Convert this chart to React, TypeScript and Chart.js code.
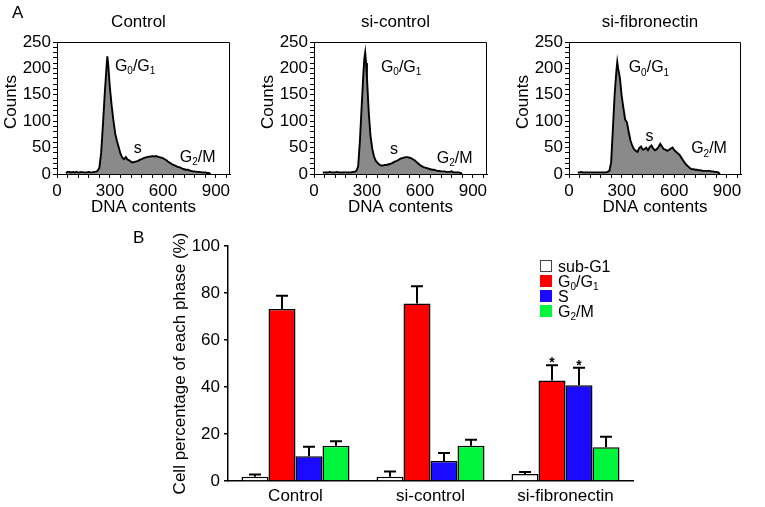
import React, { useEffect, useRef } from 'react';
import { Chart, registerables } from 'chart.js';

Chart.register(...registerables);

const FONT = '"Liberation Sans", Arial, Helvetica, sans-serif';
const AXIS_SIZE = 17;

// ---------------- Panel A : DNA content histograms ----------------
const dnaTickLabels = [0, 300, 600, 900];
const dnaMinorStep = 60;
const dnaAxisMax = 980;
const countTickLabels = [0, 50, 100, 150, 200, 250];
const countMinorStep = 10;
const histTitles = ['Control', 'si-control', 'si-fibronectin'];
const peakLabels = ['G_0/G_1', 's', 'G_2/M'];

const controlDna = [
  50, 60, 70, 80, 90, 100, 110, 120, 130, 140,
  150, 160, 170, 180, 190, 200, 210, 220, 230, 240,
  250, 260, 270, 280, 285, 290, 300, 310, 320, 330,
  340, 350, 360, 370, 380, 390, 400, 410, 420, 430,
  440, 450, 460, 470, 480, 490, 500, 510, 520, 530,
  540, 550, 560, 570, 580, 590, 600, 610, 620, 630,
  640, 650, 660, 670, 680, 690, 700, 710, 720, 730,
  740, 750, 760, 770, 780, 790, 800, 810, 820, 830,
  840, 850, 860, 870,
];
const controlCounts = [
  2, 4, 4, 3, 4, 3, 4, 3, 3, 4,
  3, 3, 3, 4, 3, 3, 4, 4, 6, 12,
  40, 92, 150, 200, 223, 208, 162, 128, 100, 76,
  62, 50, 38, 31, 28, 32, 27, 26, 23, 22,
  23, 24, 25, 27, 28, 30, 31, 32, 33, 33,
  34, 33, 34, 33, 32, 31, 30, 28, 26, 23,
  21, 19, 17, 16, 14, 13, 12, 10, 9, 8,
  8, 7, 6, 5, 5, 4, 4, 4, 3, 3,
  3, 2, 2, 0,
];

const siControlDna = [
  50, 60, 70, 80, 90, 100, 110, 120, 130, 140,
  150, 160, 170, 180, 190, 200, 210, 220, 230, 240,
  250, 260, 270, 280, 285, 290, 295, 300, 310, 320,
  330, 340, 350, 360, 370, 380, 390, 400, 410, 420,
  430, 440, 450, 460, 470, 480, 490, 500, 510, 520,
  530, 540, 550, 560, 570, 580, 590, 600, 610, 620,
  630, 640, 650, 660, 670, 680, 690, 700, 710, 720,
  730, 740, 750, 760, 770, 780, 790, 800, 810, 820,
  830, 840,
];
const siControlCounts = [
  3, 3, 3, 3, 4, 3, 3, 3, 4, 3,
  3, 3, 3, 3, 3, 3, 3, 4, 4, 6,
  14, 62, 128, 192, 218, 230, 210, 182, 118, 72,
  48, 33, 25, 21, 18, 16, 16, 17, 17, 18,
  19, 20, 22, 24, 25, 27, 29, 30, 31, 32,
  32, 31, 30, 28, 26, 23, 20, 17, 15, 13,
  12, 11, 10, 9, 8, 8, 7, 6, 6, 5,
  5, 5, 4, 4, 4, 5, 3, 3, 3, 3,
  2, 0,
];

const siFibronectinDna = [
  50, 60, 70, 80, 90, 100, 110, 120, 130, 140,
  150, 160, 170, 180, 190, 200, 210, 220, 230, 240,
  250, 260, 270, 275, 280, 290, 300, 310, 320, 330,
  340, 350, 360, 370, 380, 390, 400, 410, 420, 430,
  440, 450, 460, 470, 480, 490, 500, 510, 520, 530,
  540, 550, 560, 570, 580, 590, 600, 610, 620, 630,
  640, 650, 660, 670, 680, 690, 700, 710, 720, 730,
  740, 750, 760, 770, 780, 790, 800, 810, 820, 830,
  840, 850, 860,
];
const siFibronectinCounts = [
  3, 3, 4, 3, 3, 3, 3, 3, 3, 3,
  3, 3, 3, 3, 3, 3, 3, 4, 6, 22,
  85, 150, 195, 212, 200, 182, 148, 125, 103, 98,
  80, 64, 54, 47, 44, 42, 49, 52, 46, 47,
  50, 45, 51, 54, 48, 45, 47, 51, 57, 52,
  47, 46, 44, 46, 48, 50, 45, 42, 39, 36,
  31, 26, 21, 17, 14, 11, 9, 9, 8, 8,
  7, 7, 6, 6, 6, 6, 6, 5, 5, 4,
  4, 3, 0,
];

// label anchors in data units [DNA, count]
const controlLabelAt = [[328, 206], [458, 51], [696, 34]];
const siControlLabelAt = [[379, 204], [453, 49], [696, 32]];
const siFibronectinLabelAt = [[340, 203], [458, 72], [696, 50]];

// ---------------- Panel B : phase percentages ----------------
const groups = ['Control', 'si-control', 'si-fibronectin'];
const phaseLabels = ['sub-G1', 'G_0/G_1', 'S', 'G_2/M'];
const subG1 = [1.8, 1.8, 3.0];
const g0g1 = [73.2, 75.5, 42.8];
const sPhase = [10.5, 8.5, 40.7];
const g2m = [15.0, 15.0, 14.4];
const subG1Err = [1.0, 2.2, 0.8];
const g0g1Err = [5.6, 7.4, 6.5];
const sPhaseErr = [4.1, 3.4, 7.5];
const g2mErr = [1.9, 2.6, 4.4];
const subG1Sig = ['', '', ''];
const g0g1Sig = ['', '', '*'];
const sPhaseSig = ['', '', '*'];
const g2mSig = ['', '', ''];
const percentTicks = [0, 20, 40, 60, 80, 100];

const phaseColors = ['#ffffff', '#ff0000', '#1a0aff', '#00f53c'];

// ---------------- helpers ----------------
function drawRich(ctx: CanvasRenderingContext2D, text: string, x: number, baseline: number, size: number, align: string) {
  const segs: { t: string; sub: boolean; w: number }[] = [];
  for (let i = 0; i < text.length; i++) {
    if (text[i] === '_' && i + 1 < text.length) {
      segs.push({ t: text[i + 1], sub: true, w: 0 });
      i++;
    } else if (segs.length && !segs[segs.length - 1].sub) {
      segs[segs.length - 1].t += text[i];
    } else {
      segs.push({ t: text[i], sub: false, w: 0 });
    }
  }
  const subSize = Math.round(size * 0.64);
  let total = 0;
  segs.forEach((s) => {
    ctx.font = `${s.sub ? subSize : size}px ${FONT}`;
    s.w = ctx.measureText(s.t).width;
    total += s.w;
  });
  let cx = align === 'center' ? x - total / 2 : align === 'right' ? x - total : x;
  ctx.textBaseline = 'alphabetic';
  ctx.textAlign = 'left';
  segs.forEach((s) => {
    ctx.font = `${s.sub ? subSize : size}px ${FONT}`;
    ctx.fillText(s.t, cx, s.sub ? baseline + size * 0.22 : baseline);
    cx += s.w;
  });
}

function stepTicks(max: number, step: number) {
  const t: { value: number }[] = [];
  for (let v = 0; v <= max + 1e-9; v += step) t.push({ value: v });
  return t;
}

// ---------------- components ----------------
function Histogram(props: {
  left: number; padRight: number; title: string; dna: number[]; counts: number[];
  labelAt: number[][]; letter?: string;
}) {
  const ref = useRef<HTMLCanvasElement>(null);
  useEffect(() => {
    const { title, dna, counts, labelAt, letter, padRight } = props;
    const decor = {
      id: 'histDecor',
      afterDraw(chart: any) {
        const { ctx, chartArea: a, scales } = chart;
        ctx.save();
        ctx.strokeStyle = '#000';
        ctx.lineWidth = 1;
        ctx.beginPath();
        ctx.moveTo(a.left, a.top + 0.5);
        ctx.lineTo(a.right - 0.5, a.top + 0.5);
        ctx.lineTo(a.right - 0.5, a.bottom);
        ctx.stroke();
        ctx.fillStyle = '#000';
        // panel title
        ctx.font = `${AXIS_SIZE}px ${FONT}`;
        ctx.textAlign = 'center';
        ctx.textBaseline = 'middle';
        ctx.fillText(title, (a.left + a.right) / 2 - 5, 22);
        // y axis title
        ctx.save();
        ctx.translate(11, a.top + 60);
        ctx.rotate(-Math.PI / 2);
        ctx.fillText('Counts', 0, 0);
        ctx.restore();
        if (letter) {
          ctx.textAlign = 'left';
          ctx.textBaseline = 'alphabetic';
          ctx.fillText(letter, 12, 18);
        }
        peakLabels.forEach((txt, i) => {
          const px = scales.x.getPixelForValue(labelAt[i][0]);
          const py = scales.y.getPixelForValue(labelAt[i][1]);
          drawRich(ctx, txt, px, py + 5.5, 16, i === 1 ? 'center' : 'left');
        });
        ctx.restore();
      },
    };
    const axisFont = { family: FONT, size: AXIS_SIZE };
    const chart = new Chart(ref.current as HTMLCanvasElement, {
      type: 'line',
      data: {
        datasets: [{
          data: dna.map((x, i) => ({ x, y: counts[i] })),
          fill: 'origin',
          backgroundColor: '#8a8a8a',
          borderColor: '#000',
          borderWidth: 1.9,
          pointRadius: 0,
          tension: 0,
        }],
      },
      options: {
        responsive: false,
        animation: false,
        devicePixelRatio: 1,
        layout: { padding: { left: 0, right: padRight, top: 42, bottom: 0 } },
        plugins: { legend: { display: false }, tooltip: { enabled: false }, title: { display: false } },
        scales: {
          x: {
            type: 'linear',
            min: 0,
            max: dnaAxisMax,
            afterBuildTicks: (s: any) => { s.ticks = stepTicks(960, dnaMinorStep); },
            ticks: {
              autoSkip: false, maxRotation: 0, padding: 2.8, color: '#000', font: axisFont,
              callback: (v: any) => (dnaTickLabels.includes(Number(v)) ? String(v) : ''),
            },
            grid: { display: true, drawOnChartArea: false, drawTicks: true, tickLength: 4, color: '#000' },
            border: { display: true, color: '#000', width: 1 },
            title: { display: true, text: 'DNA contents', color: '#000', font: axisFont, padding: { top: 0, bottom: 2.8 } },
            afterFit: (s: any) => { s.height = 46; },
          },
          y: {
            type: 'linear',
            min: 0,
            max: 250,
            afterBuildTicks: (s: any) => { s.ticks = stepTicks(250, countMinorStep); },
            ticks: {
              autoSkip: false, padding: 2, color: '#000', font: axisFont,
              callback: (v: any) => (countTickLabels.includes(Number(v)) ? String(v) : ''),
            },
            grid: { display: true, drawOnChartArea: false, drawTicks: true, tickLength: 4, color: '#000' },
            border: { display: true, color: '#000', width: 1 },
            title: { display: false },
            afterFit: (s: any) => { s.width = 57; },
          },
        },
      } as any,
      plugins: [decor],
    });
    return () => chart.destroy();
  }, []);
  return (
    <canvas ref={ref} width={255} height={220}
      style={{ position: 'absolute', left: props.left, top: 0, width: 255, height: 220 }} />
  );
}

function PhaseBars() {
  const ref = useRef<HTMLCanvasElement>(null);
  useEffect(() => {
    const values = [subG1, g0g1, sPhase, g2m];
    const errors = [subG1Err, g0g1Err, sPhaseErr, g2mErr];
    const sigs = [subG1Sig, g0g1Sig, sPhaseSig, g2mSig];
    const decor = {
      id: 'barDecor',
      afterDatasetsDraw(chart: any) {
        const { ctx, scales, chartArea: a } = chart;
        ctx.save();
        ctx.strokeStyle = '#000';
        ctx.fillStyle = '#000';
        ctx.lineWidth = 2;
        values.forEach((vals, d) => {
          const meta = chart.getDatasetMeta(d);
          meta.data.forEach((bar: any, j: number) => {
            const top = scales.y.getPixelForValue(vals[j] + errors[d][j]);
            ctx.beginPath();
            ctx.moveTo(bar.x, bar.y);
            ctx.lineTo(bar.x, top);
            ctx.moveTo(bar.x - 6, top);
            ctx.lineTo(bar.x + 6, top);
            ctx.stroke();
            if (sigs[d][j]) {
              ctx.font = `bold 14px ${FONT}`;
              ctx.textAlign = 'center';
              ctx.textBaseline = 'alphabetic';
              ctx.fillText(sigs[d][j], bar.x, top + 2);
            }
          });
        });
        // legend
        const lx = a.left + 312;
        const ly = a.top + 20;
        phaseLabels.forEach((lab, i) => {
          const cy = ly + i * 15;
          ctx.fillStyle = phaseColors[i];
          ctx.fillRect(lx, cy - 6, 12, 12);
          if (i === 0) {
            ctx.lineWidth = 1;
            ctx.strokeStyle = '#444';
            ctx.strokeRect(lx + 0.5, cy - 5.5, 11, 11);
          }
          ctx.fillStyle = '#000';
          drawRich(ctx, lab, lx + 18, cy + 5.7, 16, 'left');
        });
        // panel letter
        ctx.fillStyle = '#000';
        ctx.font = `${AXIS_SIZE}px ${FONT}`;
        ctx.textAlign = 'left';
        ctx.textBaseline = 'alphabetic';
        ctx.fillText('B', 133, 43);
        ctx.restore();
      },
    };
    const axisFont = { family: FONT, size: AXIS_SIZE };
    const chart = new Chart(ref.current as HTMLCanvasElement, {
      type: 'bar',
      data: {
        labels: groups,
        datasets: values.map((vals, d) => ({
          label: phaseLabels[d],
          data: vals,
          backgroundColor: phaseColors[d],
          borderColor: '#000',
          borderWidth: 1.5,
          borderSkipped: 'start',
          categoryPercentage: 0.8,
          barPercentage: 1.0,
        })),
      },
      options: {
        responsive: false,
        animation: false,
        devicePixelRatio: 1,
        layout: { padding: { left: 170, right: 132, top: 46, bottom: 0 } },
        plugins: { legend: { display: false }, tooltip: { enabled: false } },
        scales: {
          x: {
            type: 'category',
            ticks: { padding: 4.8, color: '#000', font: axisFont, maxRotation: 0, autoSkip: false },
            grid: { display: false, drawTicks: false },
            border: { display: true, color: '#000', width: 1.5 },
            afterFit: (s: any) => { s.height = 26; },
          },
          y: {
            type: 'linear',
            min: 0,
            max: 100,
            afterBuildTicks: (s: any) => { s.ticks = percentTicks.map((v) => ({ value: v })); },
            ticks: { padding: 4, color: '#000', font: axisFont },
            grid: { display: true, drawOnChartArea: false, drawTicks: true, tickLength: 4, color: '#000', lineWidth: 1.5 },
            border: { display: true, color: '#000', width: 1.5 },
            title: { display: true, text: 'Cell percentage of each phase (%)', color: '#000', font: axisFont, padding: { top: 0.3, bottom: 0 } },
            afterFit: (s: any) => { s.width = 58; },
          },
        },
      } as any,
      plugins: [decor],
    });
    return () => chart.destroy();
  }, []);
  return (
    <canvas ref={ref} width={765} height={307}
      style={{ position: 'absolute', left: 0, top: 200, width: 765, height: 307 }} />
  );
}

export default function App() {
  return (
    <div style={{ position: 'absolute', left: 0, top: 0, width: 765, height: 507, background: '#fff', overflow: 'hidden' }}>
      <Histogram left={0} padRight={25} title={histTitles[0]} dna={controlDna} counts={controlCounts} labelAt={controlLabelAt} letter="A" />
      <Histogram left={257} padRight={25} title={histTitles[1]} dna={siControlDna} counts={siControlCounts} labelAt={siControlLabelAt} />
      <Histogram left={512} padRight={26} title={histTitles[2]} dna={siFibronectinDna} counts={siFibronectinCounts} labelAt={siFibronectinLabelAt} />
      <PhaseBars />
    </div>
  );
}
